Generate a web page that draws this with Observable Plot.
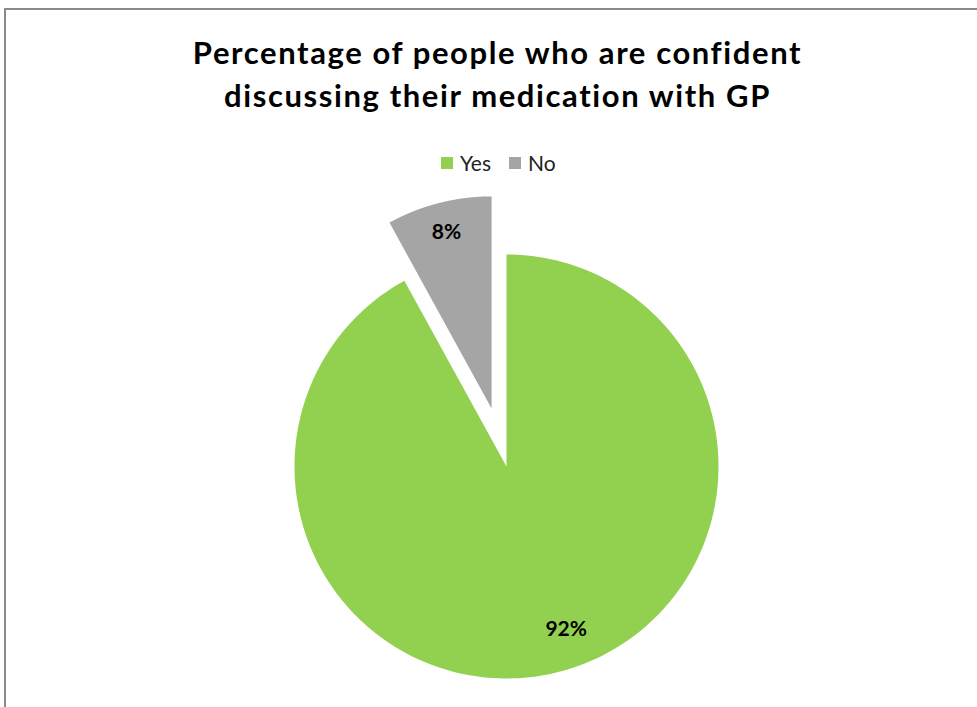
<!DOCTYPE html>
<html>
<head>
<meta charset="utf-8">
<script src="https://cdn.jsdelivr.net/npm/d3@7"></script>
<script src="https://cdn.jsdelivr.net/npm/@observablehq/plot@0.6"></script>
<style>
  html, body { margin: 0; padding: 0; background: #fff; }
  #wrap { position: relative; width: 977px; height: 707px; overflow: hidden; font-family: Lato, "Open Sans", sans-serif; }
  #frame { position: absolute; left: 4px; top: 8px; width: 1200px; height: 1000px; border-left: 2px solid #8a8a8a; border-top: 2px solid #8a8a8a; }
  #title { position: absolute; left: 0; top: 31px; width: 995px; text-align: center; font-weight: 700; font-size: 31px; line-height: 43px; letter-spacing: 1.6px; color: #000; }
  #legend { position: absolute; top: 151px; left: 441px; font-size: 21px; line-height: 24px; color: #222; display: flex; align-items: center; }
  #legend .sw { display: inline-block; width: 12px; height: 12px; margin-right: 7px; }
  #legend .item { display: flex; align-items: center; margin-right: 18px; }
  #chart { position: absolute; left: 0; top: 0; }
</style>
</head>
<body>
<div id="wrap">
  <div id="frame"></div>
  <div id="chart"></div>
  <div id="title">Percentage of people who are confident<br>discussing their medication with GP</div>
  <div id="legend"></div>
</div>
<script>
const categories = ["Yes", "No"];
const values = [92, 8];
const labels = ["92%", "8%"];
const colors = ["#92D050", "#A5A5A5"];

// layout (pixels)
const W = 977, H = 707, cx = 506, cy = 466, R = 212, explodePx = 60;

const pie = d3.pie().sort(null).value(d => d)(values);

function slicePoints(i) {
  const s = pie[i];
  const mid = (s.startAngle + s.endAngle) / 2;
  const off = i === 1 ? explodePx / R : 0;
  const ox = off * Math.sin(mid), oy = off * Math.cos(mid);
  const pts = [{x: ox, y: oy}];
  const n = 240;
  for (let k = 0; k <= n; k++) {
    const a = s.startAngle + (s.endAngle - s.startAngle) * k / n;
    pts.push({x: ox + Math.sin(a), y: oy + Math.cos(a)});
  }
  pts.push({x: ox, y: oy});
  return {pts, mid, ox, oy};
}

const slices = categories.map((c, i) => slicePoints(i));

const labelData = [
  {label: labels[0], x: slices[0].ox + 0.81 * Math.sin(slices[0].mid), y: slices[0].oy + 0.81 * Math.cos(slices[0].mid)},
  {label: labels[1], x: slices[1].ox + 0.857 * Math.sin(slices[1].mid), y: slices[1].oy + 0.857 * Math.cos(slices[1].mid)}
];

const chart = Plot.plot({
  width: W,
  height: H,
  margin: 0,
  x: {domain: [-cx / R, (W - cx) / R], range: [0, W], axis: null},
  y: {domain: [cy / R, (cy - H) / R], range: [0, H], axis: null},
  style: {background: "transparent"},
  marks: [
    ...slices.map((s, i) => Plot.line(s.pts, {x: "x", y: "y", fill: colors[i], stroke: "none", curve: "linear"})),
    Plot.text(labelData.slice(0, 1), {x: "x", y: "y", text: "label", dx: 17, dy: -4, fontSize: 21, fontWeight: 700, fill: "#000", fontFamily: "Lato"}),
    Plot.text(labelData.slice(1), {x: "x", y: "y", text: "label", fontSize: 21, fontWeight: 700, fill: "#000", fontFamily: "Lato"})
  ]
});
document.getElementById("chart").appendChild(chart);

const legend = document.getElementById("legend");
categories.forEach((c, i) => {
  const item = document.createElement("div");
  item.className = "item";
  item.innerHTML = `<span class="sw" style="background:${colors[i]}"></span><span>${c}</span>`;
  legend.appendChild(item);
});
</script>
</body>
</html>
